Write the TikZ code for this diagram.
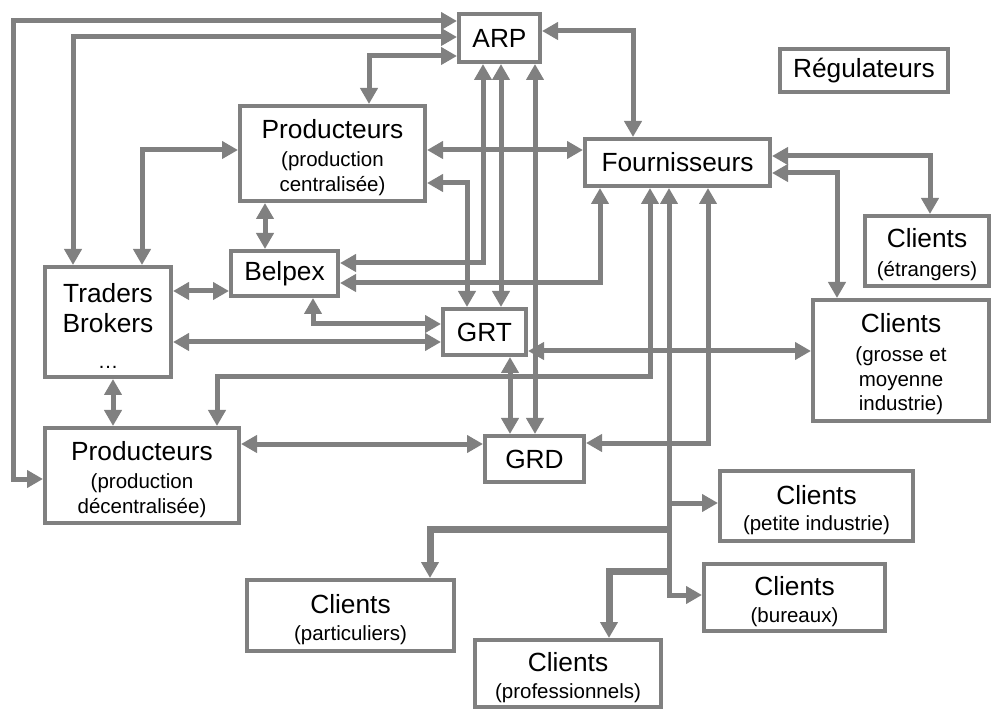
\documentclass[tikz,border=0pt]{standalone}
\usepackage{fontspec}
\setmainfont{Liberation Sans}
\usetikzlibrary{arrows.meta}
\definecolor{linegray}{RGB}{128,128,128}
\newcommand\mainfs{\fontsize{26.3}{30}\selectfont}
\newcommand\subfs{\fontsize{20.5}{24.6}\selectfont}
% first (large) line of a two-level label, with a strut that sets its height
\newcommand\headline[1]{{\mainfs\rule{0pt}{27pt}#1}}

\begin{document}
\begin{tikzpicture}[x=1pt,y=-1pt,
  box/.style={draw=linegray, line width=4pt, fill=white, inner sep=0pt, align=center, font=\mainfs},
  subbox/.style={box, font=\subfs},
  link/.style={draw=linegray, line width=5pt, line join=miter,
    {Triangle[length=16pt,width=17pt]}-{Triangle[length=16pt,width=17pt]}},
  feed/.style={draw=linegray, line width=5pt, line join=miter,
    -{Triangle[length=16pt,width=17pt]}},
]
\useasboundingbox (0,0) rectangle (994,711);

% market actors
\node[box, minimum width=81pt, minimum height=48pt] (arp) at (499.5,38) {ARP};
\node[box, minimum width=168pt, minimum height=43pt] (regul) at (864,70.5) {Régulateurs};
\node[box, minimum width=185pt, minimum height=47pt] (fourn) at (677.5,162.5) {Fournisseurs};
\node[subbox, minimum width=185pt, minimum height=95pt] (prodC) at (332.5,153.5)
  {\headline{Producteurs}\\[3.4pt](production\\centralisée)};
\node[box, minimum width=126pt, minimum height=110pt] (traders) at (108,322)
  {\rule{0pt}{27pt}Traders\\Brokers\\[6pt]{\subfs …}};
\node[box, minimum width=107pt, minimum height=45pt] (belpex) at (284.5,273.5) {Belpex};
\node[box, minimum width=83pt, minimum height=46pt] (grt) at (484.5,332) {GRT};
\node[box, minimum width=99pt, minimum height=46pt] (grd) at (534.5,459) {GRD};
\node[subbox, minimum width=194pt, minimum height=95pt] (prodD) at (142,475.5)
  {\headline{Producteurs}\\[3.4pt](production\\décentralisée)};

% customer groups
\node[subbox, minimum width=124pt, minimum height=70pt] (etrang) at (927,251)
  {\headline{Clients}\\[4.4pt](étrangers)};
\node[subbox, minimum width=176pt, minimum height=121pt] (grosse) at (901,360.5)
  {\headline{Clients}\\[4.4pt](grosse et\\moyenne\\industrie)};
\node[subbox, minimum width=193pt, minimum height=70pt] (petite) at (816.5,506)
  {\headline{Clients}\\[2pt](petite industrie)};
\node[subbox, minimum width=181pt, minimum height=67pt] (bureaux) at (794.5,597.5)
  {\headline{Clients}\\[2.4pt](bureaux)};
\node[subbox, minimum width=207pt, minimum height=71pt] (partic) at (350.5,615.5)
  {\headline{Clients}\\[2pt](particuliers)};
\node[subbox, minimum width=186pt, minimum height=67pt] (profes) at (568,673.5)
  {\headline{Clients}\\[2pt](professionnels)};

% links around ARP
\draw[link] (arp.west |- 0,21) -- (13,21) -- (13,479) -- (prodD.west |- 0,479);
\draw[link] (arp.west |- 0,37) -- (73,37) -- (traders.north -| 73,0);
\draw[link] (arp.west |- 0,56) -- (369,56) -- (prodC.north -| 369,0);
\draw[link] (arp.east |- 0,31) -- (633,31) -- (fourn.north -| 633,0);
\draw[link] (arp.south -| 483,0) -- (483,263) -- (belpex.east |- 0,263);
\draw[link] (arp.south -| 501,0) -- (grt.north -| 501,0);
\draw[link] (arp.south -| 535,0) -- (grd.north -| 535,0);

% producers, traders and exchange
\draw[link] (prodC.west |- 0,150) -- (142,150) -- (traders.north -| 142,0);
\draw[link] (prodC.east |- 0,150) -- (fourn.west |- 0,150);
\draw[link] (prodC.east |- 0,183) -- (467,183) -- (grt.north -| 467,0);
\draw[link] (prodC.south -| 265,0) -- (belpex.north -| 265,0);
\draw[link] (traders.east |- 0,291) -- (belpex.west |- 0,291);
\draw[link] (traders.south -| 113,0) -- (prodD.north -| 113,0);
\draw[link] (belpex.east |- 0,283) -- (600,283) -- (fourn.south -| 600,0);
\draw[link] (belpex.south -| 313,0) -- (313,324) -- (grt.west |- 0,324);
\draw[link] (traders.east |- 0,342) -- (grt.west |- 0,342);

% grid operators
\draw[link] (grt.south -| 510,0) -- (grd.north -| 510,0);
\draw[link] (grt.east |- 0,351) -- (grosse.west |- 0,351);
\draw[link] (prodD.east |- 0,444) -- (grd.west |- 0,444);
\draw[link] (fourn.south -| 708,0) -- (708,443) -- (grd.east |- 0,443);
\draw[link] (fourn.south -| 650,0) -- (650,377) -- (217,377) -- (prodD.north -| 217,0);

% suppliers and their customers
\draw[link] (fourn.east |- 0,156) -- (930,156) -- (etrang.north -| 930,0);
\draw[link] (fourn.east |- 0,173) -- (837,173) -- (grosse.north -| 837,0);
\draw[link] (fourn.south -| 669,0) -- (669,595) -- (bureaux.west |- 0,595);
\coordinate (tapA) at (669,503);
\coordinate (tapB) at (669,529);
\coordinate (tapC) at (669,571);
\draw[feed] (tapA) -- (petite.west |- tapA);
\draw[feed, line width=7pt] (tapB) -- (430,529) -- (partic.north -| 430,0);
\draw[feed, line width=7pt] (tapC) -- (609,571) -- (profes.north -| 609,0);
\end{tikzpicture}
\end{document}
